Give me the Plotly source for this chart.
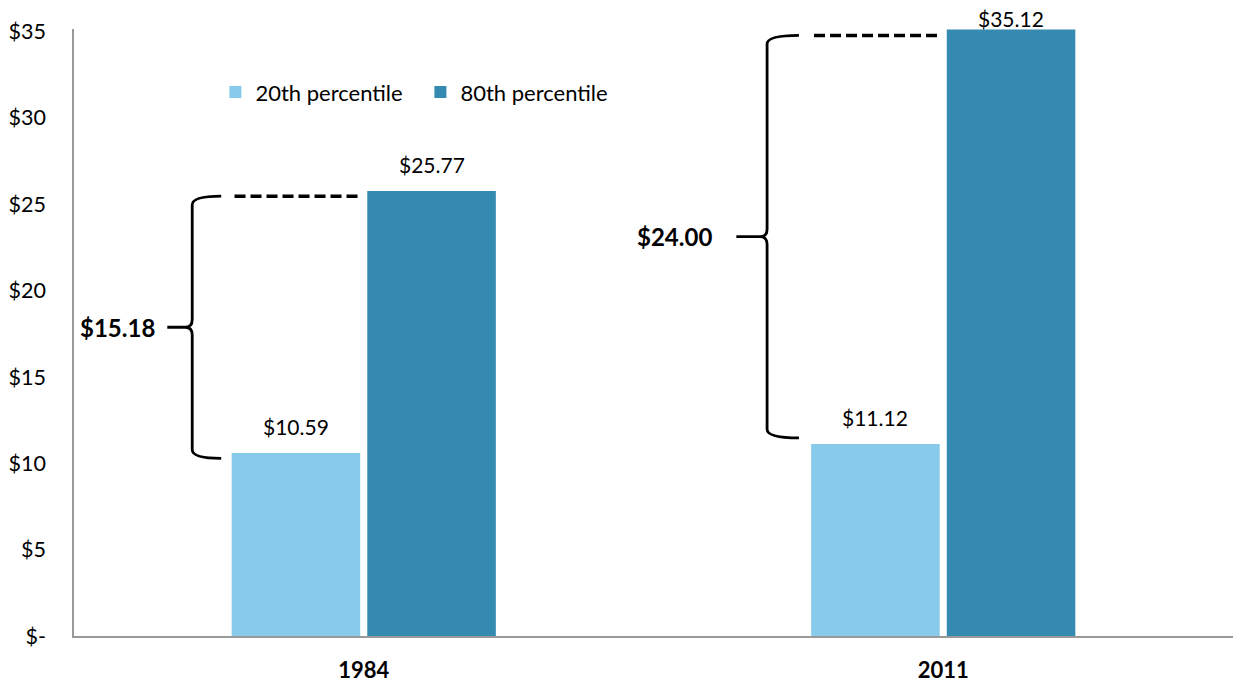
import plotly.graph_objects as go

years = ["1984", "2011"]
p20 = [10.59, 11.12]
p80 = [25.77, 35.12]
gaps = [15.18, 24.00]
series_names = ["20th percentile", "80th percentile"]
ytick_vals = [0, 5, 10, 15, 20, 25, 30, 35]
ytick_text = ["$-", "$5", "$10", "$15", "$20", "$25", "$30", "$35"]

LIGHT = "#87CAEA"
DARK = "#348AB1"
FONT = "Lato"

fig = go.Figure()
fig.add_trace(go.Bar(x=years, y=p20, name=series_names[0], marker_color=LIGHT,
                     marker_line_width=0))
fig.add_trace(go.Bar(x=years, y=p80, name=series_names[1], marker_color=DARK,
                     marker_line_width=0))

# value labels
off = 0.117
label_shift = [[12, 12], [12, -3]]
for i, y in enumerate(years):
    for s, (vals, sgn) in enumerate([(p20, -1), (p80, 1)]):
        fig.add_annotation(x=i + sgn * off, y=vals[i], xref="x", yref="y",
                           text=f"${vals[i]:.2f}", showarrow=False,
                           yanchor="bottom", yshift=label_shift[s][i],
                           font=dict(family=FONT, size=21, color="#000"))

# brackets
top_adj = [-0.3, -0.34]
bot_adj = [-0.3, 0.35]
x_vert = [-0.296, -0.304]
x_hook = [-0.246, -0.249]
x_tip = [-0.339, -0.357]
label_right = [-0.357, -0.395]
for i in range(len(years)):
    top = p80[i] + top_adj[i]
    bot = p20[i] + bot_adj[i]
    mid = (top + bot) / 2
    xv, xh, xt = i + x_vert[i], i + x_hook[i], i + x_tip[i]
    d = 0.5
    d2 = 0.45
    xc = xv - 0.012
    path = (f"M{xh},{top} Q{xv},{top} {xv},{top - d} "
            f"L{xv},{mid + d2} Q{xv},{mid} {xc},{mid} L{xt},{mid} "
            f"M{xc},{mid} Q{xv},{mid} {xv},{mid - d2} "
            f"L{xv},{bot + d} Q{xv},{bot} {xh},{bot}")
    fig.add_shape(type="path", path=path, xref="x", yref="y",
                  line=dict(color="black", width=2.8))
    fig.add_shape(type="line", x0=i - 0.223, x1=i - 0.005, y0=top, y1=top,
                  xref="x", yref="y",
                  line=dict(color="black", width=3.5, dash="11px,5px"))
    fig.add_annotation(x=i + label_right[i], y=mid, xref="x", yref="y",
                       text=f"<b>${gaps[i]:.2f}</b>", showarrow=False,
                       xanchor="right", yanchor="middle",
                       font=dict(family=FONT, size=24, color="#000"))

fig.update_layout(
    width=1233, height=683,
    margin=dict(l=74, r=0, t=29, b=47),
    plot_bgcolor="white", paper_bgcolor="white",
    barmode="group", bargap=0.532, bargroupgap=0.052,
    font=dict(family=FONT, size=21, color="#000"),
    legend=dict(orientation="h", x=0.122, y=0.896, xanchor="left", yanchor="middle",
                font=dict(family=FONT, size=22, color="#000"),
                bgcolor="rgba(0,0,0,0)", itemwidth=30,
                entrywidth=160, entrywidthmode="pixels"),
    showlegend=True,
)
fig.update_xaxes(showline=True, linecolor="#999", linewidth=1.5, showgrid=False,
                 ticks="", tickfont=dict(family=FONT, size=22, color="#000"),
                 ticklabelstandoff=14, tickprefix="<b>", ticksuffix="</b>",
                 range=[-0.5, 1.5])
fig.update_yaxes(showline=True, linecolor="#999", linewidth=1.5, showgrid=False,
                 zeroline=False, range=[0, 35.15], tickvals=ytick_vals, ticktext=ytick_text,
                 ticks="", tickfont=dict(family=FONT, size=21.5, color="#000"),
                 ticklabelstandoff=22)

fig.write_html("out.html", post_script="document.body.style.margin='0';",
               config={"displayModeBar": False})
